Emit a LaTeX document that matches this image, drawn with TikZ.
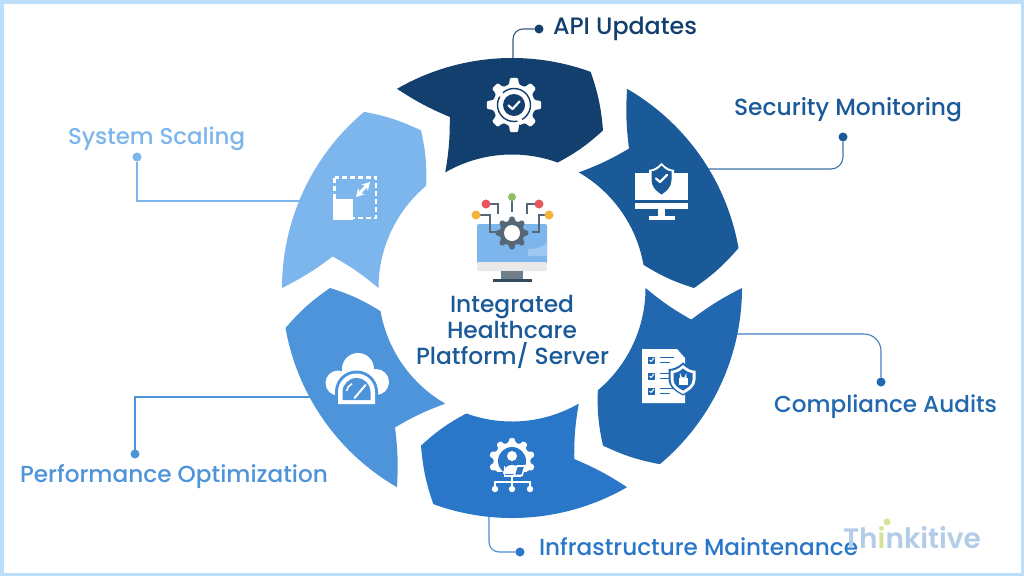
\documentclass[tikz,border=0pt]{standalone}
\usepackage{fontspec}
\usepackage{graphicx}
\setmainfont{Poppins}[UprightFont=* Medium,BoldFont=* SemiBold]
\usetikzlibrary{arrows.meta}
\definecolor{cApi}{HTML}{123F6D}
\definecolor{cSec}{HTML}{1B5A99}
\definecolor{cCom}{HTML}{2268B0}
\definecolor{cInf}{HTML}{2A77C9}
\definecolor{cPer}{HTML}{4E94DB}
\definecolor{cSca}{HTML}{7DB6EC}
\definecolor{cBorder}{HTML}{BBDFFB}
\definecolor{cLogo}{HTML}{B3CDE8}
\definecolor{cLogoG}{HTML}{D5E39A}
\definecolor{cGear}{HTML}{566878}
\definecolor{cRed}{HTML}{E5565F}
\definecolor{cOra}{HTML}{F3B33D}
\definecolor{cGre}{HTML}{8FBF6B}
\tikzset{
  lab/.style={anchor=base west,inner sep=0pt,outer sep=0pt},
  dotn/.style={circle,fill=#1,minimum size=9pt,inner sep=0pt,outer sep=0pt},
  conn/.style={draw=#1,line width=1.1pt},
  chk/.style={draw=#1,line width=2.2pt,line cap=round,line join=round},
  pin/.style={draw=cGear,line width=1.5pt},
}
% one arrow-shaped ring segment, tail at angle #1
\newcommand{\ringseg}[2]{%
  \fill[#2] (#1:230) arc[start angle=#1,end angle=#1-50,radius=230]
    to[bend left=7] ({#1-60}:182) to[bend left=7] ({#1-50}:133.5)
    arc[start angle=#1-50,end angle=#1,radius=133.5]
    to[bend right=5] ({#1-10}:182) to[bend left=5] cycle;}
\newcommand{\cog}[6]{% x y R r teeth colour
  \fill[#6,shift={(#1,#2)},rounded corners=1.2pt]
    (90-180/#5*0.62:#4) \foreach \i in {1,...,#5}{
      -- ({90+(\i-1)*360/#5-180/#5*0.62}:#4)
      -- ({90+(\i-1)*360/#5-180/#5*0.36}:#3)
      -- ({90+(\i-1)*360/#5+180/#5*0.36}:#3)
      -- ({90+(\i-1)*360/#5+180/#5*0.62}:#4)
    } -- cycle;}
\newcommand{\shieldshape}[5]{% cx top hw h colour
  \fill[#5,shift={(#1,#2)},xscale=#3,yscale=#4]
    (0,0) .. controls (.35,.14) and (.7,.2) .. (1,.2) -- (1,.5)
    .. controls (1,.75) and (.45,.9) .. (0,1)
    .. controls (-.45,.9) and (-1,.75) .. (-1,.5) -- (-1,.2)
    .. controls (-.7,.2) and (-.35,.14) .. (0,0) -- cycle;}
\begin{document}
\begin{tikzpicture}[x=1pt,y=-1pt]
\useasboundingbox (0,0) rectangle (1024,576);
\fill[white] (0,0) rectangle (1024,576);
\draw[cBorder,line width=3.5pt] (1.75,1.75) rectangle (1022.25,574.25);

% connector ends and dots
\node[dotn=cApi] (dApi) at (539,29) {};
\node[dotn=cSec] (dSec) at (843,137) {};
\node[dotn=cCom] (dCom) at (881,382) {};
\node[dotn=cInf] (dInf) at (520,552) {};
\node[dotn=cPer] (dPer) at (135,454) {};
\node[dotn=cSca] (dSca) at (137,157) {};
\coordinate (eApi) at (513,65);
\coordinate (eSec) at (705,169);
\coordinate (eCom) at (730,334);
\coordinate (eInf) at (489,510);
\coordinate (ePer) at (315,397);
\coordinate (eSca) at (305,201);
\draw[conn=cApi!85,rounded corners=10pt] (eApi) |- (dApi);
\draw[conn=cSec!85,rounded corners=12pt] (eSec) -| (dSec);
\draw[conn=cCom!85,rounded corners=17pt] (eCom) -| (dCom);
\draw[conn=cInf!85,rounded corners=10pt] (eInf) |- (dInf);
\draw[conn=cPer] (ePer) -| (dPer);
\draw[conn=cSca] (eSca) -| (dSca);

% ring
\begin{scope}[shift={(512,288)},y=1pt]
\ringseg{120}{cApi}
\ringseg{60}{cSec}
\ringseg{0}{cCom}
\ringseg{-60}{cInf}
\ringseg{-120}{cPer}
\ringseg{180}{cSca}
\end{scope}

% labels
\node[lab,text=cApi] (tApi) at (553,34) {\resizebox{144pt}{!}{API Updates}};
\node[lab,text=cSec] (tSec) at (734,115) {\resizebox{228pt}{!}{Security Monitoring}};
\node[lab,text=cCom] (tCom) at (774,412) {\resizebox{223pt}{!}{Compliance Audits}};
\node[lab,text=cInf] (tInf) at (539,555) {\resizebox{319pt}{!}{Infrastructure Maintenance}};
\node[lab,text=cPer] (tPer) at (20,482) {\resizebox{308pt}{!}{Performance Optimization}};
\node[lab,text=cSca] (tSca) at (68,144) {\resizebox{177pt}{!}{System Scaling}};
\node[lab,text=cSec] (c1) at (450,312) {\resizebox{124pt}{!}{Integrated}};
\node[lab,text=cSec] (c2) at (447,338) {\resizebox{130pt}{!}{Healthcare}};
\node[lab,text=cSec] (c3) at (416,364) {\resizebox{193pt}{!}{Platform/ Server}};
\node[lab,text=cLogo,font=\bfseries] (logo) at (843,548) {\resizebox{138pt}{!}{Th\textcolor{cLogoG}{i}nkitive}};
\fill[cLogoG] (887,522) circle (3.5pt);

% API gear icon
\cog{514}{105}{27.5}{21}{8}{white}
\draw[cApi,line width=1.4pt,dash pattern=on 38pt off 5pt] (514,105) circle (16.5pt);
\fill[cApi] (514,105) circle (11pt);
\draw[chk=white] (508.5,105.5) -- (512.5,109) -- (519.5,101.5);

% Security icon
\fill[white] (635,173) rectangle (688,200);
\fill[white] (635,203) rectangle (688,209);
\fill[white] (658,209) rectangle (665,217);
\fill[white] (649,216) rectangle (675,219.5);
\shieldshape{661.5}{163}{12.5}{34}{white}
\shieldshape{661.5}{165.5}{10}{29}{cSec}
\draw[chk=white] (656,178.5) -- (660,182) -- (667,175);

% Compliance icon
\fill[white] (642,349) -- (677,349) -- (685,358) -- (685,403) -- (642,403) -- cycle;
\foreach \yy in {360,376,391}{
  \fill[cCom] (648,\yy-3.5) rectangle (655,\yy+3.5);
  \draw[white,line width=1pt] (649.5,\yy) -- (651,\yy+1.5) -- (654,\yy-2);
  \draw[cCom,line width=1.2pt] (660,\yy-2.5) -- (674,\yy-2.5);
  \draw[cCom,line width=1.2pt] (660,\yy+2.5) -- (670,\yy+2.5);
}
\shieldshape{683}{362.5}{14.5}{33}{cCom}
\shieldshape{683}{365}{12.5}{29}{white}
\shieldshape{683}{368.5}{9.5}{22}{cCom}
\fill[white] (679,377.5) rectangle (687.5,385);
\draw[white,line width=1.1pt] (680.5,377.5) -- (680.5,375.5) arc[start angle=180,end angle=360,radius=2.7pt] -- (686,377.5);

% Infrastructure icon
\cog{512}{461}{23}{18.5}{10}{white}
\fill[cInf] (512,461) circle (14pt);
\fill[cInf] (494,472) rectangle (530,490);
\fill[white] (512,456) circle (5pt);
\fill[white] (503,474) .. controls (503,462) and (521,462) .. (521,474) -- cycle;
\draw[white,line width=1.4pt] (504.5,466) -- (504.5,476) -- (521,476);
\draw[white,line width=1.6pt,fill=cInf] (514,475.5) -- (517,466) -- (525,466) -- (522,475.5) -- cycle;
\draw[white,line width=1.4pt] (512,476) -- (512,489);
\draw[white,line width=1.4pt] (495,489) -- (495,482) -- (530,482) -- (530,489);
\foreach \xx in {495,512,530} \fill[white] (\xx,489) circle (3.2pt);

% Performance icon
\fill[white] (358,369) circle (16pt);
\fill[white] (338,383) circle (12.5pt);
\fill[white] (376,382) circle (13pt);
\fill[white] (338,376) rectangle (376,395.5);
\begin{scope}[shift={(356.5,392)},y=1pt]
\fill[cPer] (-21.5,-16) -- (-21.5,0) arc[start angle=180,end angle=0,radius=21.5] -- (21.5,-16) -- cycle;
\fill[white] (-18.5,-12) -- (-18.5,0) arc[start angle=180,end angle=0,radius=18.5] -- (18.5,-12) -- cycle;
\fill[cPer] (-14,-8) -- (-14,0) arc[start angle=180,end angle=0,radius=14] -- (14,-8) -- cycle;
\draw[white,line width=2pt,line cap=round] (-2,-6) -- (9,7);
\draw[white,line width=1.5pt] (-10,1) arc[start angle=170,end angle=115,radius=10];
\end{scope}

% Scaling icon
\draw[white,line width=2.6pt,dash pattern=on 5pt off 3pt] (334.5,177.5) rectangle (376,218);
\fill[white] (333,199) rectangle (353,219.5);
\draw[white,line width=3pt,{Stealth[length=8pt,width=9pt]}-{Stealth[length=8pt,width=9pt]}] (356,197) -- (370,182);

% centre icon
\fill[cSca,rounded corners=2pt] (477,224) rectangle (547,264);
\fill[cSca!75!white] (528,249) .. controls (538,249) and (545,246) .. (547,242) -- (547,256) -- (528,256) -- cycle;
\fill[gray!17,rounded corners=2pt] (477,262) rectangle (547,271);
\fill[cGear!85] (501,271) rectangle (523,279);
\fill[cGear!120] (493,279) rectangle (532,281.5);
\draw[pin] (512,197) -- (512,212);
\draw[pin] (486,204) -- (498,204) -- (498,214);
\draw[pin] (539,204) -- (527,204) -- (527,214);
\draw[pin] (476,215) -- (490,215) -- (490,232) -- (497,232);
\draw[pin] (549,215) -- (539,215) -- (539,232) -- (532,232);
\fill[cGre] (512,197) circle (4pt);
\fill[cRed] (486,204) circle (4.5pt);
\fill[cRed] (539,204) circle (4.5pt);
\fill[cOra] (476,215) circle (4.5pt);
\fill[cOra] (549,215) circle (4.5pt);
\cog{512}{233}{16.5}{12.5}{8}{cGear}
\fill[white] (512,233) circle (8pt);
\end{tikzpicture}
\end{document}
